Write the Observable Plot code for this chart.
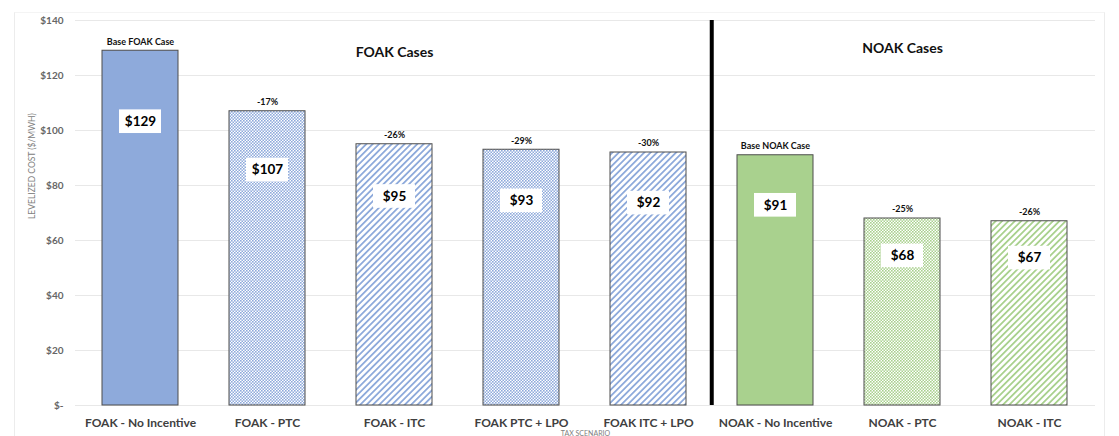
<!DOCTYPE html>
<html><head><meta charset="utf-8">
<script src="https://cdn.jsdelivr.net/npm/d3@7"></script>
<script src="https://cdn.jsdelivr.net/npm/@observablehq/plot@0.6"></script>
<style>
html,body{margin:0;padding:0;background:#fff;overflow:hidden}
#wrap{position:relative;width:1119px;height:436px}
#frame{position:absolute;left:14px;top:12px;width:1089px;height:440px;border-left:1px solid #ececec;border-right:1px solid #ececec;border-top:1px solid #f4f4f4;pointer-events:none}
</style></head><body><div id="wrap"><div id="chart"></div><div id="frame"></div></div>
<script>
const categories = ["FOAK - No Incentive","FOAK - PTC","FOAK - ITC","FOAK PTC + LPO","FOAK ITC + LPO","NOAK - No Incentive","NOAK - PTC","NOAK - ITC"];
const values = [129, 107, 95, 93, 92, 91, 68, 67];
const groups = ["FOAK","FOAK","FOAK","FOAK","FOAK","NOAK","NOAK","NOAK"];
const fillStyles = ["solid","dots","stripes","dots","stripes","solid","dots","stripes"];
const topLabels = ["Base FOAK Case","-17%","-26%","-29%","-30%","Base NOAK Case","-25%","-26%"];
const sectionTitles = ["FOAK Cases","NOAK Cases"];
const sectionAnchors = ["FOAK - ITC","NOAK - PTC"];
const separatorBefore = "NOAK - No Incentive";
const yTicks = [0, 20, 40, 60, 80, 100, 120, 140];
const yLabel = "LEVELIZED COST ($/MWH)";
const xLabel = "TAX SCENARIO";
const groupColors = {FOAK: "#8eaadb", NOAK: "#a9d18e"};

const data = categories.map((c, i) => ({cat: c, v: values[i], group: groups[i], style: fillStyles[i], top: topLabels[i]}));

const W = 1119, H = 436, mL = 75, mR = 24, mT = 20, mB = 31;
const step = (W - mL - mR) / categories.length;
const font = "Lato, 'Open Sans', sans-serif";

const fillOf = d => d.style === "solid" ? groupColors[d.group] : `url(#${d.group}-${d.style})`;

const plot = Plot.plot({
  width: W, height: H,
  marginLeft: mL, marginRight: mR, marginTop: mT, marginBottom: mB,
  style: {fontFamily: font, background: "transparent"},
  x: {domain: categories, paddingInner: 0.4, paddingOuter: 0.2, label: null},
  y: {domain: [0, 140], label: null},
  color: {type: "identity"},
  marks: [
    Plot.ruleY(yTicks, {stroke: "#e8e8e8", strokeWidth: 1}),
    Plot.axisY({ticks: yTicks, tickSize: 0, tickPadding: 12, tickFormat: d => d === 0 ? "$-" : "$" + d, fontSize: 10, fontWeight: "bold", color: "#666", label: null}),
    Plot.axisX({tickSize: 0, tickPadding: 13, fontSize: 12, fontWeight: "bold", color: "#404040", label: null}),
    Plot.barY(data, {x: "cat", y: "v", fill: fillOf, stroke: "#4d4d4d", strokeWidth: 1}),
    Plot.barY(data, {x: "cat", y1: d => d.v * 0.8 - 4.3, y2: d => d.v * 0.8 + 4.3, fill: "white", insetLeft: 17, insetRight: 17}),
    Plot.text(data, {x: "cat", y: d => d.v * 0.8, text: d => "$" + d.v, fontSize: 13.5, fontWeight: "bold", fill: "black"}),
    Plot.text(data, {x: "cat", y: "v", text: "top", dy: -9, fontSize: 9, fontWeight: "bold", fill: "#111"}),
    Plot.text([sectionTitles[0]], {x: () => sectionAnchors[0], frameAnchor: "top", dy: 27, fontSize: 14, fontWeight: "bold", fill: "#111"}),
    Plot.text([sectionTitles[1]], {x: () => sectionAnchors[1], frameAnchor: "top", dy: 23, fontSize: 14, fontWeight: "bold", fill: "#111"}),
    Plot.ruleX([separatorBefore], {x: d => d, y1: 0, y2: 140, stroke: "black", strokeWidth: 4, dx: -step / 2}),
    Plot.text([yLabel], {frameAnchor: "left", rotate: -90, dx: -43, dy: 6, fontSize: 8.5, fill: "#808080"}),
    Plot.text([xLabel], {frameAnchor: "bottom", dy: 30.5, lineAnchor: "bottom", fontSize: 7, fill: "#808080"})
  ]
});

const svg = d3.select(plot);
const defs = svg.insert("defs", ":first-child");
for (const g of ["FOAK", "NOAK"]) {
  const c = groupColors[g];
  const dots = defs.append("pattern").attr("id", `${g}-dots`).attr("patternUnits", "userSpaceOnUse").attr("width", 3).attr("height", 3);
  dots.append("rect").attr("width", 3).attr("height", 3).attr("fill", "#fff");
  dots.append("rect").attr("width", 1.6).attr("height", 1.6).attr("fill", c);
  dots.append("rect").attr("x", 1.5).attr("y", 1.5).attr("width", 1.5).attr("height", 1.5).attr("fill", c);
  const st = defs.append("pattern").attr("id", `${g}-stripes`).attr("patternUnits", "userSpaceOnUse").attr("width", 4.5).attr("height", 4.5).attr("patternTransform", "rotate(45)");
  st.append("rect").attr("width", 4.5).attr("height", 4.5).attr("fill", "#fff");
  st.append("rect").attr("width", 1.8).attr("height", 4.5).attr("fill", c);
}
document.getElementById("chart").appendChild(plot);
</script>
</body></html>
